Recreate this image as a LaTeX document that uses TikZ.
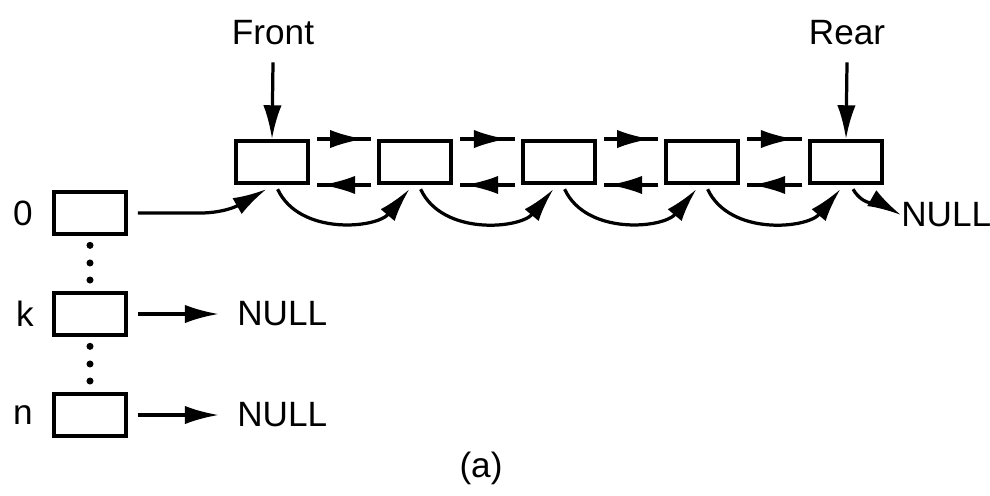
\documentclass[tikz,border=0pt]{standalone}
\usepackage{fontspec}
\setmainfont{Liberation Sans}
\usetikzlibrary{arrows.meta,calc,decorations.markings}
\begin{document}
\begin{tikzpicture}[x=0.025cm,y=-0.025cm,
  cell/.style={draw, line width=2.8pt, minimum width=1.8cm, minimum height=1.05cm, inner sep=0pt},
  lbl/.style={font=\fontsize{25}{30}\selectfont, inner sep=0pt},
  tip/.style={Latex[length=24pt,width=13pt]},
  arr/.style={line width=2.3pt, -{Latex[length=24pt,width=13pt]}},
  mfwd/.style={line width=2.3pt, postaction={decorate}, decoration={markings, mark=at position 0.86 with {\arrow{Latex[length=24pt,width=13pt]}}}},
  mbck/.style={line width=2.3pt, postaction={decorate}, decoration={markings, mark=at position 0.92 with {\arrow{Latex[length=24pt,width=13pt]}}}},
  dotc/.style={circle, fill, inner sep=0pt, minimum size=5pt}
]
\useasboundingbox (0,0) rectangle (990,495);
% queue cells
\node[cell] (b1) at (272,162) {};
\node[cell] (b2) at (415,162) {};
\node[cell] (b3) at (559,162) {};
\node[cell] (b4) at (702,162) {};
\node[cell] (b5) at (846,162) {};
% labels
\node[lbl] (front) at (273,33) {Front};
\node[lbl] (rear) at (847,33) {Rear};
\draw[arr] ([yshift=-12pt]front.south) -- (b1.north);
\draw[arr] ([yshift=-12pt]rear.south) -- (b5.north);
% forward / backward links
\foreach \a/\b in {b1/b2,b2/b3,b3/b4,b4/b5}{
  \draw[mfwd] ([xshift=5pt]\a.north east) -- ([xshift=-4pt]\b.north west);
  \draw[mbck] ([xshift=-4pt]\b.south west) -- ([xshift=5pt]\a.south east);
  \draw[arr] ([xshift=4pt,yshift=-3pt]\a.south) to[out=-65,in=-130] ([xshift=-4pt,yshift=-3pt]\b.south);
}
% NULL after rear
\node[lbl, anchor=west] (nullr) at (901,215) {NULL};
\draw[arr] ([xshift=5pt,yshift=-3pt]b5.south) to[out=-60,in=150] (nullr.west);
% bucket array
\node[cell] (z0) at (90,213) {};
\node[cell] (zk) at (90,314) {};
\node[cell] (zn) at (90,415) {};
\node[lbl] (l0) at (23,213) {0};
\node[lbl] (lk) at (25,314) {k};
\node[lbl] (ln) at (23,415) {n};
\foreach \f in {0.17,0.49,0.8}{
  \node[dotc] at ($(z0.south)!\f!(zk.north)$) {};
  \node[dotc] at ($(zk.south)!\f!(zn.north)$) {};
}
\node[lbl, anchor=west] (nullk) at (237,314) {NULL};
\node[lbl, anchor=west] (nulln) at (237,415) {NULL};
\draw[arr] ([xshift=7pt]zk.east) -- ([xshift=-13pt]nullk.west);
\draw[arr] ([xshift=7pt]zn.east) -- ([xshift=-13pt]nulln.west);
\coordinate (bend) at (200,213);
\draw[arr] ([xshift=7pt]z0.east) -- (bend) to[out=0,in=-150] ([xshift=-4pt,yshift=-3pt]b1.south);
\node[lbl] (cap) at (481,468) {(a)};
\end{tikzpicture}
\end{document}
